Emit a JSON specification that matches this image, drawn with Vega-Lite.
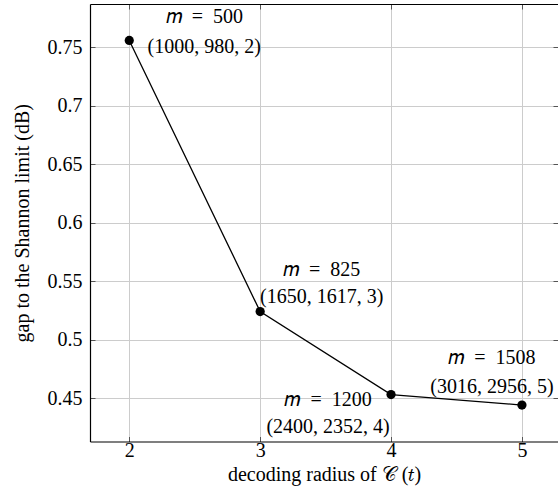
{
  "$schema": "https://vega.github.io/schema/vega-lite/v6.json",
  "autosize": {"type": "none"},
  "padding": {"left": 90, "top": 4, "right": 0, "bottom": 57.5},
  "width": 468,
  "height": 437.5,
  "background": "white",
  "config": {
    "view": {"stroke": null},
    "font": "Liberation Serif",
    "axis": {
      "labelFont": "Liberation Serif",
      "titleFont": "Liberation Serif",
      "labelFontSize": 20,
      "titleFontSize": 20,
      "titleFontWeight": "normal",
      "labelColor": "black",
      "titleColor": "black",
      "domainColor": "black",
      "domainWidth": 1.2,
      "tickColor": "#555555",
      "tickWidth": 1,
      "tickSize": -5,
      "gridColor": "#cccccc",
      "gridWidth": 1
    },
    "text": {"font": "Liberation Serif", "fontSize": 20}
  },
  "data": {
    "values": [
      {"t": 2, "gap": 0.756, "lines": ["𝑚\u2002=\u2002500", "(1000, 980, 2)"]},
      {"t": 3, "gap": 0.524, "lines": ["𝑚\u2002=\u2002825", "(1650, 1617, 3)"]},
      {"t": 4, "gap": 0.453, "lines": ["𝑚\u2002=\u20021200", "(2400, 2352, 4)"]},
      {"t": 5, "gap": 0.444, "lines": ["𝑚\u2002=\u20021508", "(3016, 2956, 5)"]}
    ]
  },
  "layer": [
    {
      "mark": {"type": "line", "color": "black", "strokeWidth": 1.3},
      "encoding": {
        "x": {
          "field": "t", "type": "quantitative",
          "scale": {"domain": [1.7, 5.2755], "nice": false, "zero": false},
          "axis": {
            "orient": "bottom", "values": [2, 3, 4, 5], "grid": true,
            "title": "decoding radius of 𝒞 (𝑡)",
            "labelPadding": 3.5, "titleBaseline": "alphabetic", "titleY": 38.5
          }
        },
        "y": {
          "field": "gap", "type": "quantitative",
          "scale": {"domain": [0.4128, 0.7872], "nice": false, "zero": false},
          "axis": {
            "orient": "left", "values": [0.45, 0.5, 0.55, 0.6, 0.65, 0.7, 0.75],
            "format": ".2~f", "grid": true,
            "title": "gap to the Shannon limit (dB)",
            "labelPadding": 13, "titleBaseline": "alphabetic", "titleX": -61.5
          }
        }
      }
    },
    {
      "mark": {"type": "circle", "color": "black", "opacity": 1, "size": 85},
      "encoding": {
        "x": {
          "field": "t", "type": "quantitative",
          "axis": {"orient": "top", "values": [2, 3, 4, 5], "grid": false, "labels": false, "title": null, "domain": true}
        },
        "y": {
          "field": "gap", "type": "quantitative",
          "axis": {"orient": "right", "values": [0.45, 0.5, 0.55, 0.6, 0.65, 0.7, 0.75], "grid": false, "labels": false, "title": null, "domain": false}
        }
      }
    },
    {
      "transform": [{"filter": "datum.t == 2"}],
      "mark": {"type": "text", "color": "black", "baseline": "middle", "align": "center", "lineHeight": 30, "dx": 75, "dy": -23},
      "encoding": {
        "x": {"field": "t", "type": "quantitative", "axis": null},
        "y": {"field": "gap", "type": "quantitative", "axis": null},
        "text": {"field": "lines"}
      }
    },
    {
      "transform": [{"filter": "datum.t == 3"}],
      "mark": {"type": "text", "color": "black", "baseline": "middle", "align": "center", "lineHeight": 27.5, "dx": 61.5, "dy": -41.7},
      "encoding": {
        "x": {"field": "t", "type": "quantitative", "axis": null},
        "y": {"field": "gap", "type": "quantitative", "axis": null},
        "text": {"field": "lines"}
      }
    },
    {
      "transform": [{"filter": "datum.t == 4"}],
      "mark": {"type": "text", "color": "black", "baseline": "middle", "align": "center", "lineHeight": 27, "dx": -63, "dy": 5.7},
      "encoding": {
        "x": {"field": "t", "type": "quantitative", "axis": null},
        "y": {"field": "gap", "type": "quantitative", "axis": null},
        "text": {"field": "lines"}
      }
    },
    {
      "transform": [{"filter": "datum.t == 5"}],
      "mark": {"type": "text", "color": "black", "baseline": "middle", "align": "center", "lineHeight": 29, "dx": -30, "dy": -46.6},
      "encoding": {
        "x": {"field": "t", "type": "quantitative", "axis": null},
        "y": {"field": "gap", "type": "quantitative", "axis": null},
        "text": {"field": "lines"}
      }
    }
  ]
}
